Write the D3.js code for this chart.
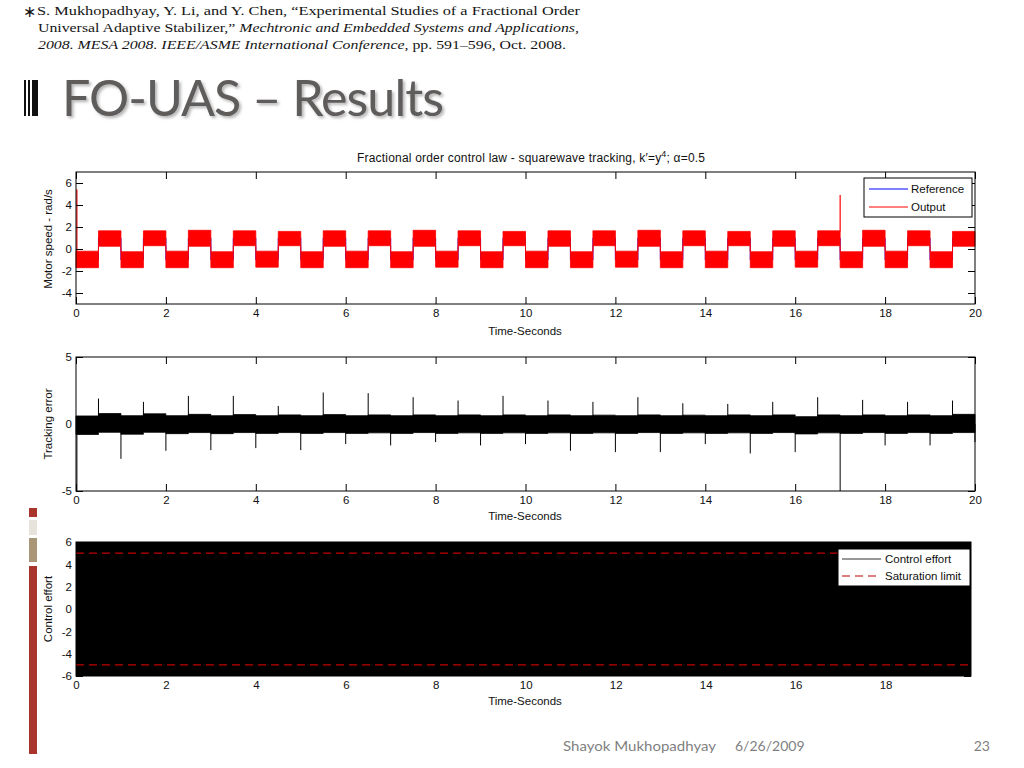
<!DOCTYPE html>
<html><head><meta charset="utf-8">
<script src="https://cdn.jsdelivr.net/npm/d3@7/dist/d3.min.js"></script>
<style>
html,body{margin:0;padding:0;background:#fff;}
svg{display:block;}
</style>
</head><body>
<svg id="slide" width="1024" height="768"></svg>
<script>
// ---------- DATA ----------
const xTickLabels = [0, 2, 4, 6, 8, 10, 12, 14, 16, 18, 20];
const xTickLabels3 = [0, 2, 4, 6, 8, 10, 12, 14, 16, 18];
const speedTicks = [-4, -2, 0, 2, 4, 6];
const errorTicks = [-5, 0, 5];
const effortTicks = [-6, -4, -2, 0, 2, 4, 6];

// half-period segment start / end times (s)
const segStart = [0, 0.5, 1, 1.5, 2, 2.5, 3, 3.5, 4, 4.5, 5, 5.5, 6, 6.5, 7, 7.5, 8, 8.5, 9, 9.5,
  10, 10.5, 11, 11.5, 12, 12.5, 13, 13.5, 14, 14.5, 15, 15.5, 16, 16.5, 17, 17.5, 18, 18.5, 19, 19.5];
const segEnd = [0.5, 1, 1.5, 2, 2.5, 3, 3.5, 4, 4.5, 5, 5.5, 6, 6.5, 7, 7.5, 8, 8.5, 9, 9.5, 10,
  10.5, 11, 11.5, 12, 12.5, 13, 13.5, 14, 14.5, 15, 15.5, 16, 16.5, 17, 17.5, 18, 18.5, 19, 19.5, 20];
// reference square wave level per segment (rad/s)
const refLevel = [-1, 1, -1, 1, -1, 1, -1, 1, -1, 1, -1, 1, -1, 1, -1, 1, -1, 1, -1, 1,
  -1, 1, -1, 1, -1, 1, -1, 1, -1, 1, -1, 1, -1, 1, -1, 1, -1, 1, -1, 1];
// output noise band per segment (rad/s)
const outLo = [-1.7, 0.25, -1.7, 0.3, -1.7, 0.25, -1.7, 0.3, -1.65, 0.3, -1.7, 0.25, -1.7, 0.3, -1.7, 0.25, -1.65, 0.3, -1.7, 0.3,
  -1.7, 0.25, -1.7, 0.3, -1.65, 0.25, -1.7, 0.3, -1.7, 0.3, -1.7, 0.25, -1.65, 0.3, -1.7, 0.25, -1.7, 0.3, -1.7, 0.25];
const outHi = [-0.2, 1.65, -0.25, 1.65, -0.2, 1.7, -0.25, 1.65, -0.2, 1.6, -0.25, 1.65, -0.2, 1.65, -0.25, 1.7, -0.2, 1.65, -0.25, 1.6,
  -0.2, 1.65, -0.25, 1.65, -0.2, 1.7, -0.25, 1.65, -0.2, 1.6, -0.25, 1.65, -0.2, 1.65, -0.25, 1.7, -0.2, 1.65, -0.25, 1.6];
// output transient spikes
const outSpikeT = [0.02, 17.0];
const outSpikeFrom = [-1.7, 1.6];
const outSpikeTo = [5.4, 4.9];

// tracking error noise band per segment
const errLo = [-0.78, -0.62, -0.76, -0.62, -0.72, -0.64, -0.72, -0.64, -0.7, -0.64, -0.7, -0.64, -0.7, -0.66, -0.7, -0.64, -0.7, -0.66, -0.7, -0.66,
  -0.7, -0.66, -0.7, -0.66, -0.7, -0.64, -0.7, -0.66, -0.7, -0.66, -0.7, -0.64, -0.74, -0.66, -0.7, -0.64, -0.7, -0.64, -0.7, -0.64];
const errHi = [0.6, 0.78, 0.62, 0.76, 0.62, 0.72, 0.62, 0.7, 0.62, 0.68, 0.62, 0.7, 0.62, 0.68, 0.62, 0.68, 0.62, 0.68, 0.62, 0.68,
  0.62, 0.68, 0.62, 0.66, 0.62, 0.68, 0.62, 0.66, 0.62, 0.68, 0.62, 0.68, 0.55, 0.68, 0.62, 0.68, 0.62, 0.68, 0.62, 0.72];
// tracking error spikes at switching instants
const errSpikeT = [0.5, 1.5, 2.5, 3.5, 4.5, 5.5, 6.5, 7.5, 8.5, 9.5, 10.5, 11.5, 12.5, 13.5, 14.5, 15.5, 16.5, 17.5, 18.5, 19.5,
  1, 2, 3, 4, 5, 6, 7, 8, 9, 10, 11, 12, 13, 14, 15, 16, 17, 18, 19, 20, 0.02];
const errSpikeV = [1.9, 1.65, 2.1, 2.1, 1.35, 2.35, 2.3, 2.0, 1.75, 2.1, 1.75, 1.65, 2.0, 1.55, 1.5, 1.65, 2.0, 1.8, 1.65, 1.75,
  -2.6, -2.0, -1.95, -1.8, -1.95, -1.5, -1.6, -1.35, -1.6, -1.5, -2.0, -2.1, -2.1, -1.5, -2.2, -2.1, -5, -1.6, -1.6, -1.35, -5];

// control effort (chattering over the full range)
const effortT = [0, 19.9];
const effortLo = [-6, -6];
const effortHi = [6, 6];
const saturation = [5, -5];

// ---------- LAYOUT ----------
const svg = d3.select("#slide");
svg.append("rect").attr("width", 1024).attr("height", 768).attr("fill", "#fff");
const AX_FONT = "'Liberation Sans', Arial, sans-serif";
const AX_SIZE = 11.5;
const TICK = 7;

// citation
const cite = svg.append("g").attr("font-family", "'Liberation Serif', 'Times New Roman', serif")
  .attr("font-size", 13.5).attr("fill", "#141414");
cite.append("text").attr("x", 23).attr("y", 17).attr("font-size", 16).attr("font-family", "'DejaVu Sans', sans-serif").text("∗");
const l1 = cite.append("text").attr("x", 37).attr("y", 15).attr("textLength", 543).attr("lengthAdjust", "spacingAndGlyphs");
l1.text("S. Mukhopadhyay, Y. Li, and Y. Chen, “Experimental Studies of a Fractional Order");
const l2 = cite.append("text").attr("x", 38).attr("y", 32).attr("textLength", 541).attr("lengthAdjust", "spacingAndGlyphs");
l2.append("tspan").text("Universal Adaptive Stabilizer,” ");
l2.append("tspan").attr("font-style", "italic").text("Mechtronic and Embedded Systems and Applications,");
const l3 = cite.append("text").attr("x", 38).attr("y", 49).attr("textLength", 528).attr("lengthAdjust", "spacingAndGlyphs");
l3.append("tspan").attr("font-style", "italic").text("2008. MESA 2008. IEEE/ASME International Conference");
l3.append("tspan").text(", pp. 591–596, Oct. 2008.");

// heading bars
[[24, 2], [28, 2], [32, 6]].forEach(([x, w]) => {
  svg.append("rect").attr("x", x).attr("y", 80).attr("width", w).attr("height", 36).attr("fill", "#111");
});
const defs = svg.append("defs");
const f = defs.append("filter").attr("id", "shadow").attr("x", "-5%").attr("y", "-20%").attr("width", "110%").attr("height", "140%");
f.append("feDropShadow").attr("dx", 2).attr("dy", 2).attr("stdDeviation", 1.5).attr("flood-color", "#000").attr("flood-opacity", 0.3);
svg.append("text").attr("x", 62).attr("y", 116).attr("font-family", "Lato, 'Open Sans', sans-serif")
  .attr("font-size", 50).attr("fill", "#5f5b5b").attr("letter-spacing", -1)
  .attr("textLength", 381).attr("lengthAdjust", "spacingAndGlyphs")
  .attr("filter", "url(#shadow)").text("FO-UAS – Results");

// left decorative strip
[[508, 9, "#a8342b"], [520, 15, "#e7e3dc"], [538, 24, "#a99677"], [566, 188, "#a8342b"]].forEach(([y, h, c]) => {
  svg.append("rect").attr("x", 29).attr("y", y).attr("width", 8).attr("height", h).attr("fill", c);
});

// footer
const foot = svg.append("g").attr("font-family", "Lato, 'Open Sans', sans-serif").attr("font-size", 14).attr("fill", "#7f7f7f");
foot.append("text").attr("x", 563).attr("y", 751).attr("textLength", 153).attr("lengthAdjust", "spacingAndGlyphs").text("Shayok Mukhopadhyay");
foot.append("text").attr("x", 735).attr("y", 751).text("6/26/2009");
foot.append("text").attr("x", 990).attr("y", 751).attr("text-anchor", "end").text("23");

// ---------- helpers ----------
function makeAxes(g, x, y, xt, yt, W, H) {
  const fmt = d => (d < 0 ? "-" + Math.abs(d) : String(d));
  const bottom = g.append("g").attr("transform", `translate(0,${H})`)
    .call(d3.axisBottom(x).tickValues(xt).tickSize(-TICK).tickPadding(5).tickFormat(fmt));
  const top = g.append("g").call(d3.axisTop(x).tickValues(xt).tickSize(-TICK).tickFormat(""));
  const left = g.append("g").call(d3.axisLeft(y).tickValues(yt).tickSize(-TICK).tickPadding(4).tickFormat(fmt));
  const right = g.append("g").attr("transform", `translate(${W},0)`)
    .call(d3.axisRight(y).tickValues(yt).tickSize(-TICK).tickFormat(""));
  [bottom, top, left, right].forEach(a => {
    a.select(".domain").remove();
    a.selectAll("line").attr("stroke", "#000");
    a.selectAll("text").attr("font-family", AX_FONT).attr("font-size", AX_SIZE).attr("fill", "#111");
  });
  g.append("rect").attr("width", W).attr("height", H).attr("fill", "none").attr("stroke", "#000").attr("stroke-width", 1);
}

// ---------- PLOT 1 : motor speed ----------
const p1 = { x0: 76, y0: 172, W: 899, H: 132 };
const g1 = svg.append("g").attr("transform", `translate(${p1.x0},${p1.y0})`);
const x1 = d3.scaleLinear().domain([0, 20]).range([0, p1.W]);
const y1 = d3.scaleLinear().domain([-5, 7]).range([p1.H, 0]);
g1.append("rect").attr("width", p1.W).attr("height", p1.H).attr("fill", "#fff");

const refPts = [];
segStart.forEach((t, i) => { refPts.push([t, refLevel[i]]); refPts.push([segEnd[i], refLevel[i]]); });
g1.append("path").datum(refPts).attr("fill", "none").attr("stroke", "#0000ff").attr("stroke-width", 1)
  .attr("d", d3.line().x(d => x1(d[0])).y(d => y1(d[1])));

const outPts = [];
segStart.forEach((t, i) => { outPts.push({ t: t, lo: outLo[i], hi: outHi[i] }); outPts.push({ t: segEnd[i], lo: outLo[i], hi: outHi[i] }); });
g1.append("path").datum(outPts).attr("fill", "#ff0000").attr("stroke", "#ff0000").attr("stroke-width", 0.8)
  .attr("d", d3.area().x(d => x1(d.t)).y0(d => y1(d.lo)).y1(d => y1(d.hi)));
outSpikeT.forEach((t, i) => {
  g1.append("line").attr("x1", x1(t)).attr("x2", x1(t)).attr("y1", y1(outSpikeFrom[i])).attr("y2", y1(outSpikeTo[i]))
    .attr("stroke", "#ff0000").attr("stroke-width", 1.2);
});
makeAxes(g1, x1, y1, xTickLabels, speedTicks, p1.W, p1.H);

// title + labels
svg.append("text").attr("x", 531).attr("y", 162).attr("text-anchor", "middle")
  .attr("font-family", AX_FONT).attr("font-size", 12).attr("fill", "#111")
  .attr("textLength", 348).attr("lengthAdjust", "spacing")
  .html("Fractional order control law - squarewave tracking, k′=y<tspan dy='-5' font-size='9'>4</tspan><tspan dy='5'>; α=0.5</tspan>");
function xLabel(y) {
  svg.append("text").attr("x", 525).attr("y", y).attr("text-anchor", "middle").attr("font-family", AX_FONT)
    .attr("font-size", AX_SIZE).attr("fill", "#111").text("Time-Seconds");
}
function yLabel(cy, txt) {
  svg.append("text").attr("transform", `translate(52,${cy}) rotate(-90)`).attr("text-anchor", "middle")
    .attr("font-family", AX_FONT).attr("font-size", AX_SIZE).attr("fill", "#111").text(txt);
}
xLabel(335); yLabel(239, "Motor speed - rad/s");

// legend 1
const lg1 = svg.append("g").attr("transform", "translate(864,178)");
lg1.append("rect").attr("width", 108).attr("height", 39).attr("fill", "#fff").attr("stroke", "#000").attr("stroke-width", 1);
[["Reference", "#0000ff", 11], ["Output", "#ff0000", 29]].forEach(([t, c, yy]) => {
  lg1.append("line").attr("x1", 5).attr("x2", 44).attr("y1", yy).attr("y2", yy).attr("stroke", c);
  lg1.append("text").attr("x", 47).attr("y", yy + 4).attr("font-family", AX_FONT).attr("font-size", AX_SIZE).attr("fill", "#111").text(t);
});

// ---------- PLOT 2 : tracking error ----------
const p2 = { x0: 76, y0: 357, W: 899, H: 134 };
const g2 = svg.append("g").attr("transform", `translate(${p2.x0},${p2.y0})`);
const x2 = d3.scaleLinear().domain([0, 20]).range([0, p2.W]);
const y2 = d3.scaleLinear().domain([-5, 5]).range([p2.H, 0]);
const errPts = [];
segStart.forEach((t, i) => { errPts.push({ t: t, lo: errLo[i], hi: errHi[i] }); errPts.push({ t: segEnd[i], lo: errLo[i], hi: errHi[i] }); });
g2.append("path").datum(errPts).attr("fill", "#000").attr("stroke", "#000").attr("stroke-width", 0.8)
  .attr("d", d3.area().x(d => x2(d.t)).y0(d => y2(d.lo)).y1(d => y2(d.hi)));
errSpikeT.forEach((t, i) => {
  g2.append("line").attr("x1", x2(t)).attr("x2", x2(t)).attr("y1", y2(0)).attr("y2", y2(errSpikeV[i]))
    .attr("stroke", "#000").attr("stroke-width", 1);
});
makeAxes(g2, x2, y2, xTickLabels, errorTicks, p2.W, p2.H);
xLabel(520); yLabel(424, "Tracking error");

// ---------- PLOT 3 : control effort ----------
const p3 = { x0: 76, y0: 542, W: 895, H: 134 };
const g3 = svg.append("g").attr("transform", `translate(${p3.x0},${p3.y0})`);
const x3 = d3.scaleLinear().domain([0, 19.9]).range([0, p3.W]);
const y3 = d3.scaleLinear().domain([-6, 6]).range([p3.H, 0]);
g3.append("path").datum(effortT.map((t, i) => ({ t: t, lo: effortLo[i], hi: effortHi[i] })))
  .attr("fill", "#000").attr("d", d3.area().x(d => x3(d.t)).y0(d => y3(d.lo)).y1(d => y3(d.hi)));
saturation.forEach(v => {
  g3.append("line").attr("x1", 0).attr("x2", p3.W).attr("y1", y3(v)).attr("y2", y3(v))
    .attr("stroke", "#c00000").attr("stroke-width", 1.2).attr("stroke-dasharray", "8,5");
});
makeAxes(g3, x3, y3, xTickLabels3, effortTicks, p3.W, p3.H);
xLabel(705); yLabel(609, "Control effort");

// legend 3
const lg3 = svg.append("g").attr("transform", "translate(838,549)");
lg3.append("rect").attr("width", 132).attr("height", 37).attr("fill", "#fff").attr("stroke", "#000").attr("stroke-width", 1);
lg3.append("line").attr("x1", 4).attr("x2", 43).attr("y1", 10).attr("y2", 10).attr("stroke", "#333");
lg3.append("text").attr("x", 47).attr("y", 14).attr("font-family", AX_FONT).attr("font-size", AX_SIZE).attr("fill", "#111").text("Control effort");
lg3.append("line").attr("x1", 4).attr("x2", 43).attr("y1", 27).attr("y2", 27).attr("stroke", "#c00000").attr("stroke-width", 1.2).attr("stroke-dasharray", "8,5");
lg3.append("text").attr("x", 47).attr("y", 31).attr("font-family", AX_FONT).attr("font-size", AX_SIZE).attr("fill", "#111").text("Saturation limit");
</script>
</body></html>
